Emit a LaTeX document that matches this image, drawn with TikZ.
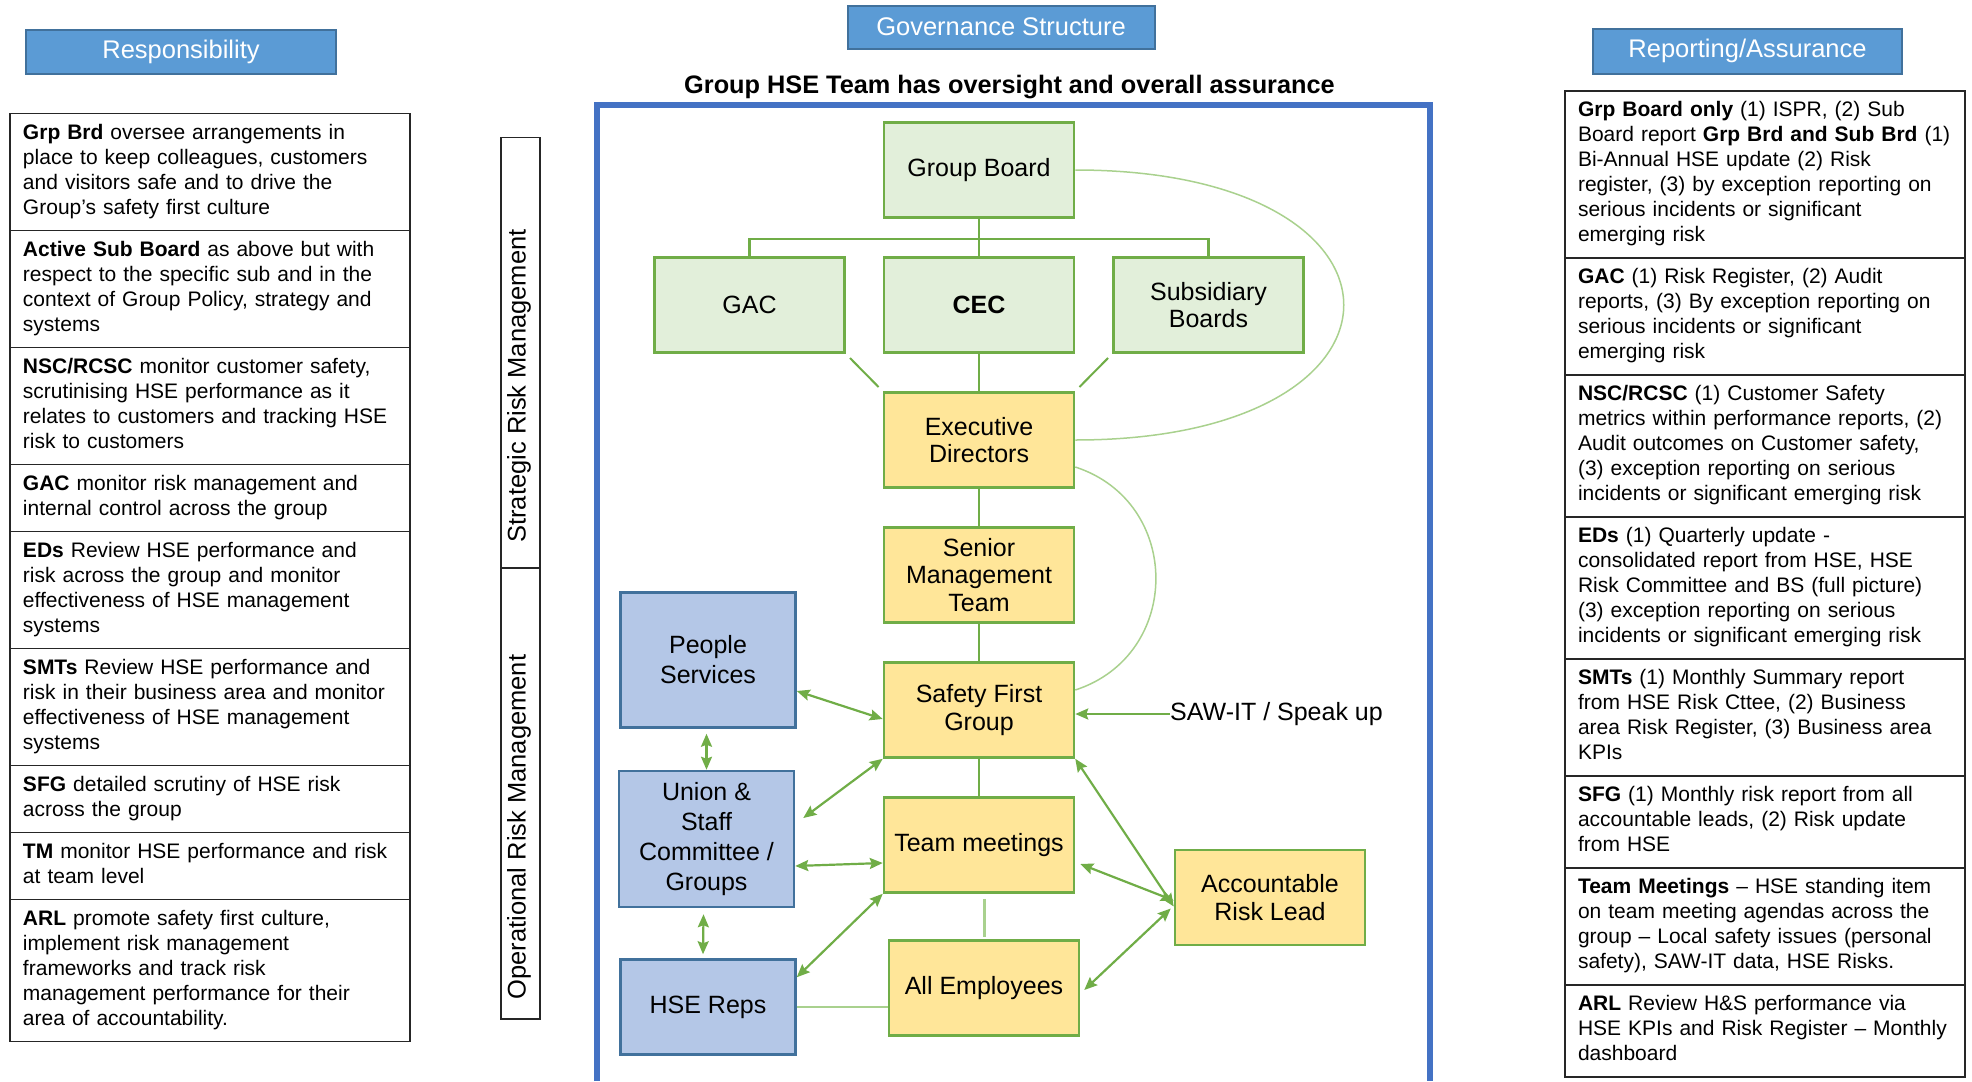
\documentclass[tikz,border=0pt]{standalone}
\usepackage{fontspec}
\setmainfont{Liberation Sans}
\usetikzlibrary{positioning,arrows.meta}
\definecolor{hdrblue}{HTML}{5B9BD5}
\definecolor{hdredge}{HTML}{41719C}
\definecolor{frameblue}{HTML}{4472C4}
\definecolor{boxgreen}{HTML}{E2EFDA}
\definecolor{boxyellow}{HTML}{FFE699}
\definecolor{boxblue}{HTML}{B4C7E7}
\definecolor{linegreen}{HTML}{70AD47}
\definecolor{palegreen}{HTML}{A9D18E}
\tikzstyle{header}=[draw=hdredge, line width=2pt, fill=hdrblue, text=white,
  font=\fontsize{25.5}{30}\selectfont, minimum width=309pt, minimum height=44pt, inner sep=0pt]
\tikzstyle{tabrow}=[draw=black!85, line width=1.6pt, outer sep=0pt, text width=374pt,
  inner xsep=13pt, inner ysep=8.5pt, align=left, font=\fontsize{21}{25}\selectfont,
  execute at begin node={\noindent\strut}, execute at end node={\strut}]
\tikzstyle{band}=[draw=black!85, line width=1.6pt, outer sep=0pt, minimum width=39pt, inner sep=0pt]
\tikzstyle{bandtext}=[rotate=90, inner sep=0pt, font=\fontsize{25.5}{30}\selectfont]
\tikzstyle{board}=[draw=linegreen, line width=2.5pt, fill=boxgreen, minimum width=190pt,
  minimum height=95pt, align=center, font=\fontsize{25}{27.5}\selectfont]
\tikzstyle{mgmt}=[board, fill=boxyellow]
\tikzstyle{support}=[draw=hdredge, line width=2.5pt, fill=boxblue, minimum width=175pt,
  minimum height=135pt, align=center, font=\fontsize{25}{30}\selectfont]
\tikzstyle{org}=[linegreen, line width=2.5pt]
\tikzstyle{feedback}=[palegreen, line width=1.5pt]
\tikzstyle{twoway}=[<->, linegreen, line width=2.2pt]

\begin{document}
\begin{tikzpicture}[x=1pt, y=1pt, on grid, node distance=135pt,
    >={Stealth[length=13pt,width=11pt,inset=2pt]}]
  \useasboundingbox (0,0) rectangle (1972,-1081);

  \node[header, minimum width=310pt] (resp) at (181,-52) {Responsibility};
  \node[header, minimum width=307pt, minimum height=43pt] (gov) at (1001,-27.2) {Governance Structure};
  \node[header, minimum height=45.5pt] (rep) at (1747.5,-51.3) {Reporting/Assurance};
  \node[font=\bfseries\fontsize{25.3}{29}\selectfont] (title) at (1009.5,-87)
    {Group HSE Team has oversight and overall assurance};

  \draw[frameblue, line width=6pt] (597,-1081) -- (597,-105) -- (1430,-105) -- (1430,-1081);

  \node[tabrow, anchor=north west] (l1) at (10,-113.5)
    {\textbf{Grp Brd} oversee arrangements in\\place to keep colleagues, customers\\and visitors safe and to drive the\\Group’s safety first culture};
  \node[tabrow, anchor=north] (l2) at (l1.south)
    {\textbf{Active Sub Board} as above but with\\respect to the specific sub and in the\\context of Group Policy, strategy and\\systems};
  \node[tabrow, anchor=north] (l3) at (l2.south)
    {\textbf{NSC/RCSC} monitor customer safety,\\scrutinising HSE performance as it\\relates to customers and tracking HSE\\risk to customers};
  \node[tabrow, anchor=north] (l4) at (l3.south)
    {\textbf{GAC} monitor risk management and\\internal control across the group};
  \node[tabrow, anchor=north] (l5) at (l4.south)
    {\textbf{EDs} Review HSE performance and\\risk across the group and monitor\\effectiveness of HSE management\\systems};
  \node[tabrow, anchor=north] (l6) at (l5.south)
    {\textbf{SMTs} Review HSE performance and\\risk in their business area and monitor\\effectiveness of HSE management\\systems};
  \node[tabrow, anchor=north] (l7) at (l6.south)
    {\textbf{SFG} detailed scrutiny of HSE risk\\across the group};
  \node[tabrow, anchor=north] (l8) at (l7.south)
    {\textbf{TM} monitor HSE performance and risk\\at team level};
  \node[tabrow, anchor=north] (l9) at (l8.south)
    {\textbf{ARL} promote safety first culture,\\implement risk management\\frameworks and track risk\\management performance for their\\area of accountability.};

  \node[band, minimum height=430.5pt, anchor=north] (srm) at (520.5,-137.6) {};
  \node[band, minimum height=450.7pt, anchor=north] (orm) at (srm.south) {};
  \node[bandtext] (srmtext) at (519,-386) {Strategic Risk Management};
  \node[bandtext] (ormtext) at (519,-827) {Operational Risk Management};

  \node[tabrow, anchor=north west] (r1) at (1565,-90.7)
    {\textbf{Grp Board only} (1) ISPR, (2) Sub\\Board report \textbf{Grp Brd and Sub Brd} (1)\\Bi-Annual HSE update (2) Risk\\register, (3) by exception reporting on\\serious incidents or significant\\emerging risk};
  \node[tabrow, anchor=north] (r2) at (r1.south)
    {\textbf{GAC} (1) Risk Register, (2) Audit\\reports, (3) By exception reporting on\\serious incidents or significant\\emerging risk};
  \node[tabrow, anchor=north] (r3) at (r2.south)
    {\textbf{NSC/RCSC} (1) Customer Safety\\metrics within performance reports, (2)\\Audit outcomes on Customer safety,\\(3) exception reporting on serious\\incidents or significant emerging risk};
  \node[tabrow, anchor=north] (r4) at (r3.south)
    {\textbf{EDs} (1) Quarterly update -\\consolidated report from HSE, HSE\\Risk Committee and BS (full picture)\\(3) exception reporting on serious\\incidents or significant emerging risk};
  \node[tabrow, anchor=north] (r5) at (r4.south)
    {\textbf{SMTs} (1) Monthly Summary report\\from HSE Risk Cttee, (2) Business\\area Risk Register, (3) Business area\\KPIs};
  \node[tabrow, anchor=north] (r6) at (r5.south)
    {\textbf{SFG} (1) Monthly risk report from all\\accountable leads, (2) Risk update\\from HSE};
  \node[tabrow, anchor=north] (r7) at (r6.south)
    {\textbf{Team Meetings} – HSE standing item\\on team meeting agendas across the\\group – Local safety issues (personal\\safety), SAW-IT data, HSE Risks.};
  \node[tabrow, anchor=north] (r8) at (r7.south)
    {\textbf{ARL} Review H\&S performance via\\HSE KPIs and Risk Register – Monthly\\dashboard};

  \node[board] (gb) at (979,-170) {Group Board};
  \node[board, below=of gb] (cec) {\textbf{CEC}};
  \node[board, left=229.5pt of cec] (gac) {GAC};
  \node[board, right=229.5pt of cec] (sub) {Subsidiary\\Boards};
  \node[mgmt, below=of cec] (ed) {Executive\\Directors};
  \node[mgmt, below=of ed] (smt) {Senior\\Management\\Team};
  \node[mgmt, below=of smt] (sfg) {Safety First\\Group};
  \node[mgmt, below=of sfg] (tm) {Team meetings};
  \node[mgmt, below=143pt of tm, xshift=5pt] (ae) {All Employees};
  \node[mgmt] (arl) at (1270,-897.5) {Accountable\\Risk Lead};
  \node[support] (ps) at (708,-660) {People\\Services};
  \node[support, minimum height=136pt] (usc) at (706.5,-839) {Union \&\\Staff\\Committee /\\Groups};
  \node[support, minimum height=95pt] (hse) at (708,-1007) {HSE Reps};
  \node[anchor=west, inner sep=0pt, font=\fontsize{25}{30}\selectfont] (saw) at (1170,-714) {SAW-IT / Speak up};

  \draw[org] (gb.south) -- ++(0,-20) -| (gac.north);
  \draw[org] (gb.south) -- ++(0,-20) -| (sub.north);
  \draw[org] (gb) -- (cec);
  \draw[org] (cec) -- (ed) -- (smt) -- (sfg) -- (tm);
  \draw[org, line width=2pt, shorten <=6pt, shorten >=6pt] (gac.south east) -- (ed.north west);
  \draw[org, line width=2pt, shorten <=6pt, shorten >=6pt] (sub.south west) -- (ed.north east);

  \draw[feedback] (gb.east) to[out=0, in=0, looseness=3.4] (ed.east);
  \draw[feedback] ([yshift=-27pt]ed.east) to[out=-18, in=18, looseness=1.3] ([yshift=20pt]sfg.east);

  \draw[twoway] ([yshift=-31pt]ps.east) -- ([yshift=-9pt]sfg.west);
  \draw[twoway] ([yshift=-5pt]ps.south -| usc.north) -- (usc.north);
  \draw[twoway] ([xshift=-3pt, yshift=-6pt]usc.south) -- ([xshift=-5pt, yshift=4pt]hse.north);
  \draw[twoway] (sfg.south west) -- ([shift={(8pt,21pt)}]usc.east);
  \draw[twoway] ([yshift=-27pt]usc.east) -- ([yshift=-18pt]tm.west);
  \draw[twoway] ([yshift=-19pt]hse.north east) -- (tm.south west);
  \draw[twoway] (sfg.south east) -- ([yshift=-9pt]arl.west);
  \draw[twoway] ([shift={(5pt,-19pt)}]tm.east) -- ([yshift=-3pt]arl.west);
  \draw[twoway] ([shift={(4pt,-2pt)}]ae.east) -- ([shift={(-3pt,-11pt)}]arl.west);

  \draw[->, linegreen, line width=2.2pt] (saw.west) -- (saw.west -| sfg.east);
  \draw[palegreen, line width=3pt, shorten <=5pt, shorten >=2.5pt] (tm.south -| ae.north) -- (ae.north);
  \draw[palegreen, line width=2.5pt] (hse.east) -- (hse.east -| ae.west);
\end{tikzpicture}
\end{document}
